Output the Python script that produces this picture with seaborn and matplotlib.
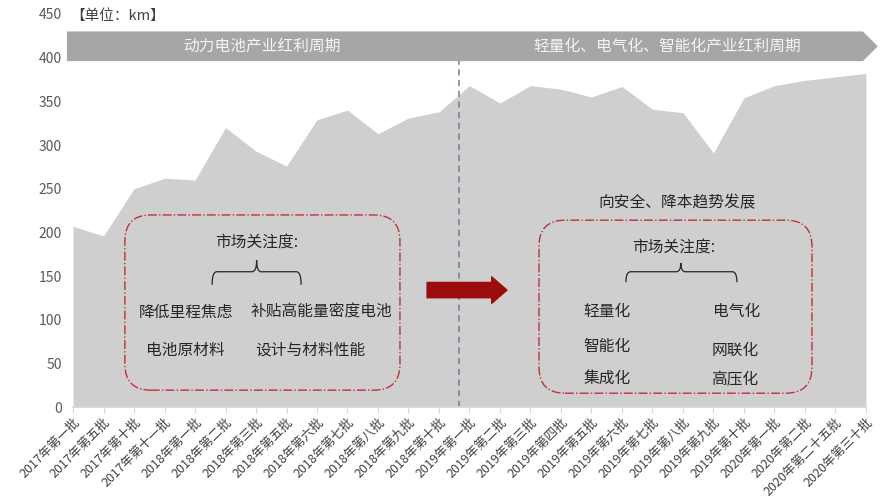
import numpy as np
import pandas as pd
import matplotlib
matplotlib.use("Agg")
import matplotlib.pyplot as plt
import seaborn as sns
from matplotlib.patches import FancyBboxPatch, Polygon, PathPatch
from matplotlib.path import Path

batches = ["2017年第一批", "2017年第五批", "2017年第十批", "2017年第十一批",
           "2018年第一批", "2018年第二批", "2018年第三批", "2018年第五批",
           "2018年第六批", "2018年第七批", "2018年第八批", "2018年第九批",
           "2018年第十批", "2019年第一批", "2019年第二批", "2019年第三批",
           "2019年第四批", "2019年第五批", "2019年第六批", "2019年第七批",
           "2019年第八批", "2019年第九批", "2019年第十批", "2020年第一批",
           "2020年第二批", "2020年第二十五批", "2020年第三十批"]
range_km = [207, 196, 250, 262, 260, 320, 293, 276, 329, 340, 313, 331,
            338, 368, 348, 368, 364, 355, 367, 341, 337, 291, 354, 368,
            374, 378, 382]

left_items = ["降低里程焦虑", "补贴高能量密度电池", "电池原材料", "设计与材料性能"]
right_items = ["轻量化", "电气化", "智能化", "网联化", "集成化", "高压化"]

sns.set_theme(style="white")
plt.rcParams["font.family"] = ["Noto Sans CJK SC", "DejaVu Sans"]

df = pd.DataFrame({"batch": batches, "km": range_km})
df["pos"] = np.arange(len(df))

fig = plt.figure(figsize=(8.8, 4.99), dpi=100)
ax = fig.add_axes([0.083, 0.184, 0.901, 0.788])

area_col = "#cfcfcf"
sns.lineplot(data=df, x="pos", y="km", ax=ax, color=area_col, linewidth=0)
ax.fill_between(df["pos"], df["km"], color=area_col, linewidth=0)

ax.set_xlim(0, len(df) - 1)
ax.set_ylim(0, 450)
ax.set_yticks(range(0, 451, 50))
ax.set_xticks(df["pos"])
ax.set_xticklabels(df["batch"], rotation=45, ha="right", rotation_mode="anchor",
                   fontsize=9.1, color="#404040")
ax.tick_params(axis="y", labelsize=10, labelcolor="#595959", length=0, pad=8)
ax.tick_params(axis="x", length=4, color="#d9d9d9", width=0.8, pad=2, bottom=True)
ax.set_xlabel("")
ax.set_ylabel("")
for s in ["left", "right", "top"]:
    ax.spines[s].set_visible(False)
ax.spines["bottom"].set_color("#d9d9d9")

# unit label
ax.text(-0.1, 448, "【单位：km】", fontsize=10.5, color="#404040",
        ha="left", va="center", clip_on=False)

# banner
banner = Polygon([(-0.2, 396), (25.9, 396), (26.39, 413), (25.9, 430), (-0.2, 430)],
                 closed=True, facecolor="#a6a6a6", edgecolor="none", clip_on=False, zorder=3)
ax.add_patch(banner)
ax.text(6.2, 413, "动力电池产业红利周期", fontsize=11.3, color="#f5f5f5",
        ha="center", va="center", zorder=4)
ax.text(19.47, 413, "轻量化、电气化、智能化产业红利周期", fontsize=11.3, color="#f5f5f5",
        ha="center", va="center", zorder=4)

# divider
ax.plot([12.67, 12.67], [0, 396], linestyle=(0, (4, 3)), color="#6f7aa0", linewidth=1.1, zorder=2)

# rounded boxes
asp = (1 / 0.873) / (1 / 30.5)
for (x0, x1, y0, y1) in [(1.70, 10.72, 19.5, 220), (15.28, 24.23, 16, 214)]:
    box = FancyBboxPatch((x0, y0), x1 - x0, y1 - y0,
                         boxstyle="round,pad=0,rounding_size=0.85",
                         mutation_aspect=asp, facecolor="none",
                         edgecolor="#c0303a", linestyle="-.", linewidth=1.0, zorder=3)
    ax.add_patch(box)


def brace(x0, x1, xc, ybot, yline, ytop, dx=0.15):
    verts = [(x0, ybot), (x0, yline), (x0 + dx, yline),
             (xc - dx, yline), (xc, yline), (xc, ytop),
             (xc, yline), (xc + dx, yline),
             (x1 - dx, yline), (x1, yline), (x1, ybot)]
    codes = [Path.MOVETO, Path.CURVE3, Path.CURVE3,
             Path.LINETO, Path.CURVE3, Path.CURVE3,
             Path.CURVE3, Path.CURVE3,
             Path.LINETO, Path.CURVE3, Path.CURVE3]
    ax.add_patch(PathPatch(Path(verts, codes), facecolor="none",
                           edgecolor="#262626", linewidth=0.9, zorder=4))


brace(4.56, 7.48, 6.02, 140, 155, 168)
brace(18.13, 21.77, 19.93, 143, 155, 165)

tc = "#262626"
fs = 11.3
ax.text(6.03, 188, "市场关注度:", fontsize=fs, color=tc, ha="center", va="center")
ax.text(3.70, 109, left_items[0], fontsize=fs, color=tc, ha="center", va="center")
ax.text(8.13, 109, left_items[1], fontsize=fs, color=tc, ha="center", va="center")
ax.text(3.67, 65, left_items[2], fontsize=fs, color=tc, ha="center", va="center")
ax.text(7.80, 65, left_items[3], fontsize=fs, color=tc, ha="center", va="center")

ax.text(19.80, 234, "向安全、降本趋势发展", fontsize=fs, color=tc, ha="center", va="center")
ax.text(19.70, 182, "市场关注度:", fontsize=fs, color=tc, ha="center", va="center")
rx = [17.52, 21.77, 17.50, 21.70, 17.50, 21.70]
ry = [109, 109, 69, 65, 33, 31]
for name, xx, yy in zip(right_items, rx, ry):
    ax.text(xx, yy, name, fontsize=fs, color=tc, ha="center", va="center")

# red arrow
ax.annotate("", xy=(14.23, 134), xytext=(11.61, 134),
            arrowprops=dict(arrowstyle="simple,head_length=11,head_width=19,tail_width=11",
                            mutation_scale=1, color="#9c0c0c", shrinkA=0, shrinkB=0),
            zorder=5)

fig.savefig("out.png", dpi=100)
